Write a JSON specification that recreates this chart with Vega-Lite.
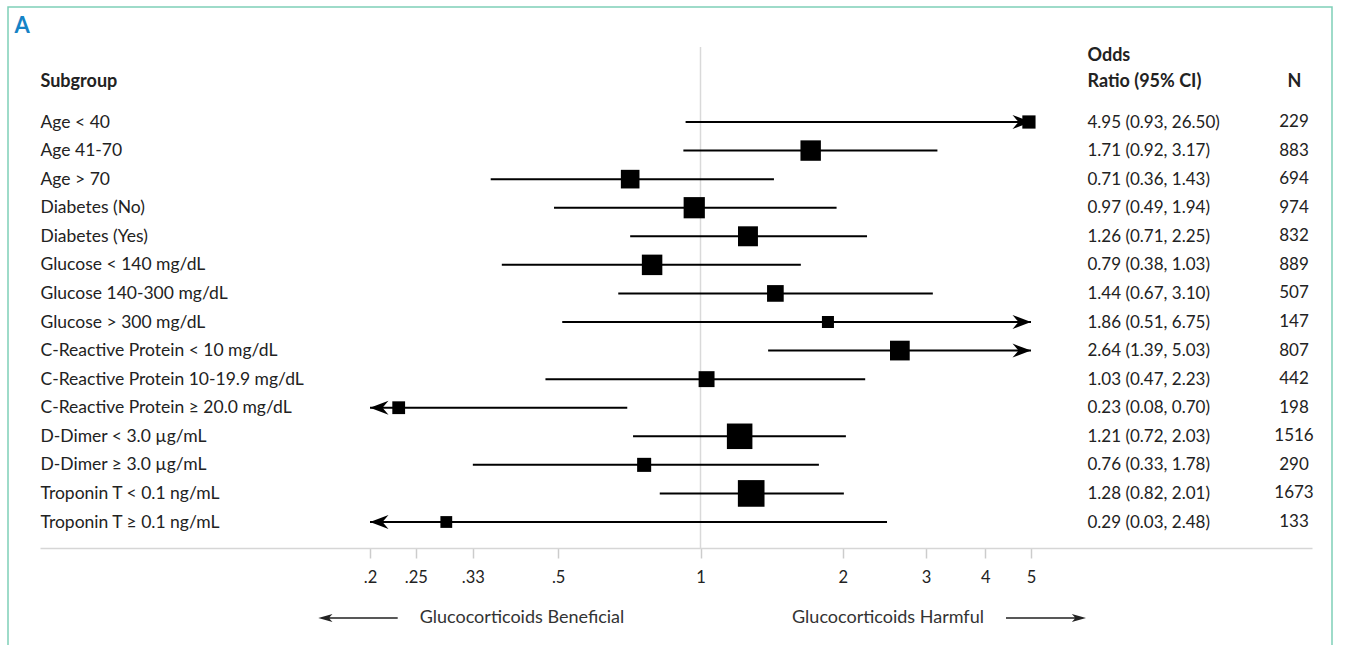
{
  "$schema": "https://vega.github.io/schema/vega-lite/v6.json",
  "width": 1324,
  "height": 640,
  "autosize": {"type": "none"},
  "padding": {"left": 8, "top": 7, "right": 14, "bottom": 0},
  "background": "white",
  "config": {
    "view": {"stroke": "#7fd0b8", "strokeWidth": 1.5},
    "font": "Lato",
    "text": {"font": "Lato"},
    "axis": {"labelFont": "Lato", "titleFont": "Lato"}
  },
  "datasets": {
    "rows": [
      {"label": "Age < 40", "or": 4.95, "lo": 0.93, "hi": 26.5, "ci": "4.95 (0.93, 26.50)", "n": 229},
      {"label": "Age 41-70", "or": 1.71, "lo": 0.92, "hi": 3.17, "ci": "1.71 (0.92, 3.17)", "n": 883},
      {"label": "Age > 70", "or": 0.71, "lo": 0.36, "hi": 1.43, "ci": "0.71 (0.36, 1.43)", "n": 694},
      {"label": "Diabetes (No)", "or": 0.97, "lo": 0.49, "hi": 1.94, "ci": "0.97 (0.49, 1.94)", "n": 974},
      {"label": "Diabetes (Yes)", "or": 1.26, "lo": 0.71, "hi": 2.25, "ci": "1.26 (0.71, 2.25)", "n": 832},
      {"label": "Glucose < 140 mg/dL", "or": 0.79, "lo": 0.38, "hi": 1.63, "ci": "0.79 (0.38, 1.03)", "n": 889},
      {"label": "Glucose 140-300 mg/dL", "or": 1.44, "lo": 0.67, "hi": 3.1, "ci": "1.44 (0.67, 3.10)", "n": 507},
      {"label": "Glucose > 300 mg/dL", "or": 1.86, "lo": 0.51, "hi": 6.75, "ci": "1.86 (0.51, 6.75)", "n": 147},
      {"label": "C-Reactive Protein < 10 mg/dL", "or": 2.64, "lo": 1.39, "hi": 5.03, "ci": "2.64 (1.39, 5.03)", "n": 807},
      {"label": "C-Reactive Protein 10-19.9 mg/dL", "or": 1.03, "lo": 0.47, "hi": 2.23, "ci": "1.03 (0.47, 2.23)", "n": 442},
      {"label": "C-Reactive Protein ≥ 20.0 mg/dL", "or": 0.23, "lo": 0.08, "hi": 0.7, "ci": "0.23 (0.08, 0.70)", "n": 198},
      {"label": "D-Dimer < 3.0 µg/mL", "or": 1.21, "lo": 0.72, "hi": 2.03, "ci": "1.21 (0.72, 2.03)", "n": 1516},
      {"label": "D-Dimer ≥ 3.0 µg/mL", "or": 0.76, "lo": 0.33, "hi": 1.78, "ci": "0.76 (0.33, 1.78)", "n": 290},
      {"label": "Troponin T < 0.1 ng/mL", "or": 1.28, "lo": 0.82, "hi": 2.01, "ci": "1.28 (0.82, 2.01)", "n": 1673},
      {"label": "Troponin T ≥ 0.1 ng/mL", "or": 0.29, "lo": 0.03, "hi": 2.48, "ci": "0.29 (0.03, 2.48)", "n": 133}
    ],
    "notes": [
      {"side": "Glucocorticoids Beneficial", "dir": "left"},
      {"side": "Glucocorticoids Harmful", "dir": "right"}
    ]
  },
  "layer": [
    {
      "data": {"name": "rows"},
      "layer": [
        {
          "data": {"values": [{}]},
          "mark": {"type": "rule", "color": "#d9d9d9", "strokeWidth": 1.5, "yOffset": -75, "y2Offset": 26},
          "encoding": {
            "x": {"datum": 1, "type": "quantitative"},
            "y": {"datum": "Age < 40", "type": "nominal"},
            "y2": {"datum": "Troponin T ≥ 0.1 ng/mL"}
          }
        },
        {
          "mark": {"type": "rule", "color": "#000000", "strokeWidth": 2},
          "encoding": {
            "x": {
              "field": "lo", "type": "quantitative",
              "scale": {"type": "log", "domain": [0.2, 5], "range": [362, 1023], "clamp": true, "nice": false},
              "axis": {"orient": "bottom", "offset": -99, "values": [0.2, 0.25, 0.33, 0.5, 1, 2, 3, 4, 5],
                "labelExpr": "replace(format(datum.value, '.2~f'), '0.', '.')",
                "domain": false, "grid": false, "ticks": true, "tickColor": "#cccccc", "tickSize": 10, "tickWidth": 1.5,
                "labelPadding": 19, "labelBaseline": "middle", "labelFontSize": 16.5, "labelColor": "#222222",
                "labelFlush": false, "labelOverlap": false, "title": null}
            },
            "x2": {"field": "hi"},
            "y": {
              "field": "label", "type": "nominal",
              "scale": {"type": "point", "range": [115, 515], "padding": 0,
                "domain": ["Age < 40", "Age 41-70", "Age > 70", "Diabetes (No)", "Diabetes (Yes)", "Glucose < 140 mg/dL", "Glucose 140-300 mg/dL", "Glucose > 300 mg/dL", "C-Reactive Protein < 10 mg/dL", "C-Reactive Protein 10-19.9 mg/dL", "C-Reactive Protein ≥ 20.0 mg/dL", "D-Dimer < 3.0 µg/mL", "D-Dimer ≥ 3.0 µg/mL", "Troponin T < 0.1 ng/mL", "Troponin T ≥ 0.1 ng/mL"]},
              "axis": {"orient": "left", "offset": -32, "labelAlign": "left", "labelBaseline": "middle", "labelPadding": 0,
                "ticks": false, "domain": false, "grid": false, "labelFontSize": 17.5, "labelColor": "#222222",
                "labelLimit": 500, "labelOverlap": false,
                "title": "Subgroup", "titleAngle": 0, "titleAlign": "left", "titleBaseline": "alphabetic",
                "titleX": 0, "titleY": 79, "titleFontSize": 18, "titleFontWeight": "bold", "titleColor": "#222222"}
            }
          }
        },
        {
          "transform": [{"filter": "datum.hi > 5"}],
          "mark": {"type": "point", "shape": "M0,0L-1.85,-0.7L-1.25,0L-1.85,0.7Z", "filled": true, "color": "#000000", "opacity": 1, "size": 400, "strokeWidth": 0},
          "encoding": {
            "x": {"field": "hi", "type": "quantitative"},
            "y": {"field": "label", "type": "nominal"}
          }
        },
        {
          "transform": [{"filter": "datum.lo < 0.2"}],
          "mark": {"type": "point", "shape": "M0,0L1.85,-0.7L1.25,0L1.85,0.7Z", "filled": true, "color": "#000000", "opacity": 1, "size": 400, "strokeWidth": 0},
          "encoding": {
            "x": {"field": "lo", "type": "quantitative"},
            "y": {"field": "label", "type": "nominal"}
          }
        },
        {
          "mark": {"type": "square", "filled": true, "color": "#000000", "opacity": 1},
          "encoding": {
            "x": {"field": "or", "type": "quantitative"},
            "y": {"field": "label", "type": "nominal"},
            "size": {"field": "n", "type": "quantitative", "scale": {"domain": [0, 1700], "range": [90, 720]}, "legend": null}
          }
        }
      ]
    },
    {
      "data": {"name": "rows"},
      "mark": {"type": "text", "align": "center", "baseline": "middle", "fontSize": 17, "color": "#222222"},
      "encoding": {
        "text": {"field": "n", "type": "quantitative", "format": "d"},
        "x": {"datum": "N", "type": "nominal", "scale": {"type": "point", "range": [1286, 1286]},
          "axis": {"orient": "top", "offset": -79, "domain": false, "ticks": false, "labelPadding": 0, "labelBaseline": "alphabetic", "labelAngle": 0, "labelAlign": "center",
            "labelFontSize": 18, "labelFontWeight": "bold", "labelColor": "#222222", "title": null, "grid": false}},
        "y": {"field": "ci", "type": "nominal", "sort": null, "scale": {"type": "point", "range": [115, 515], "padding": 0},
          "axis": {"orient": "right", "offset": -245, "domain": false, "ticks": false, "labelAlign": "left", "labelBaseline": "middle",
            "labelPadding": 0, "labelFontSize": 17, "labelColor": "#222222", "labelLimit": 400, "labelOverlap": false, "grid": false,
            "title": ["Odds", "Ratio (95% CI)"], "titleAngle": 0, "titleAlign": "left", "titleBaseline": "alphabetic",
            "titleX": 0, "titleY": 53, "titleLineHeight": 26, "titleFontSize": 18, "titleFontWeight": "bold", "titleColor": "#222222"}}
      }
    },
    {
      "data": {"name": "notes"},
      "encoding": {
        "x": {"field": "side", "type": "nominal", "sort": null,
          "scale": {"type": "band", "range": [32, 1304], "paddingInner": 0, "paddingOuter": 0.7377, "align": 0.5537},
          "axis": {"orient": "bottom", "offset": -99, "domain": true, "domainColor": "#d6d6d6", "domainWidth": 1.5,
            "ticks": false, "labels": false, "grid": false, "title": null}},
        "y": {"datum": "note", "type": "nominal", "scale": {"type": "point", "range": [611, 611]},
          "axis": {"orient": "left", "offset": 0, "labels": false, "ticks": false, "domain": false, "grid": false,
            "title": "A", "titleAngle": 0, "titleAlign": "left", "titleBaseline": "alphabetic", "titleX": 6, "titleY": 25.5,
            "titleFontSize": 22, "titleFontWeight": "bold", "titleColor": "#1583c6"}}
      },
      "layer": [
        {
          "mark": {"type": "text", "fontSize": 18, "color": "#333333", "align": "center", "baseline": "middle"},
          "encoding": {"text": {"field": "side", "type": "nominal"}}
        },
        {
          "mark": {"type": "point", "filled": true, "size": 100, "color": "#222222", "opacity": 1, "strokeWidth": 0},
          "encoding": {
            "shape": {"field": "dir", "type": "nominal",
              "scale": {"domain": ["left", "right"],
                "range": ["M-40.74,0L-37.9,-0.8L-38.5,-0.16L-24.86,-0.16L-24.86,0.16L-38.5,0.16L-37.9,0.8Z",
                          "M39.6,0L36.76,-0.8L37.36,-0.16L23.6,-0.16L23.6,0.16L37.36,0.16L36.76,0.8Z"]},
              "legend": null}
          }
        }
      ]
    }
  ],
  "resolve": {
    "scale": {"x": "independent", "y": "independent", "size": "independent", "shape": "independent"},
    "axis": {"x": "independent", "y": "independent"}
  }
}
